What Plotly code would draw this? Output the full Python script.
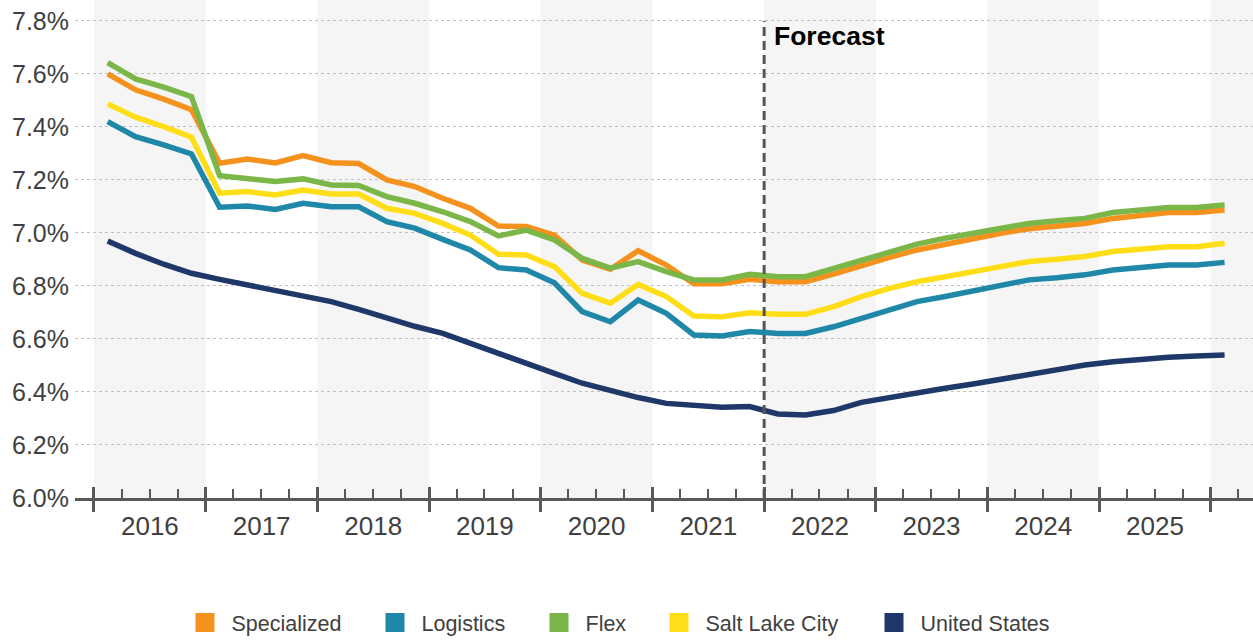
import plotly.graph_objects as go

# ---------------- data ----------------
years = list(range(2016, 2027))
quarters = [(y, q) for y in range(2016, 2026) for q in (1, 2, 3, 4)] + [(2026, 1)]
quarter_mid_month = {1: "02-15", 2: "05-16", 3: "08-16", 4: "11-15"}
x_dates = [f"{y}-{quarter_mid_month[q]}" for y, q in quarters]

specialized = [7.600, 7.540, 7.505, 7.465, 7.263, 7.279, 7.264, 7.292, 7.265, 7.262, 7.200, 7.175,
               7.131, 7.093, 7.026, 7.024, 6.992, 6.898, 6.863, 6.933, 6.879, 6.808, 6.808, 6.825,
               6.816, 6.816, 6.845, 6.879, 6.908, 6.936, 6.957, 6.980, 6.999, 7.016, 7.026, 7.036,
               7.055, 7.068, 7.077, 7.077, 7.087]
logistics = [7.420, 7.363, 7.332, 7.298, 7.097, 7.102, 7.089, 7.112, 7.099, 7.099, 7.043, 7.018,
             6.976, 6.936, 6.869, 6.860, 6.812, 6.703, 6.665, 6.747, 6.697, 6.615, 6.611, 6.628,
             6.621, 6.621, 6.646, 6.678, 6.709, 6.741, 6.760, 6.782, 6.804, 6.823, 6.831, 6.842,
             6.860, 6.871, 6.879, 6.879, 6.889]
flex = [7.643, 7.581, 7.550, 7.514, 7.216, 7.206, 7.194, 7.204, 7.181, 7.179, 7.137, 7.112,
        7.080, 7.043, 6.989, 7.011, 6.974, 6.904, 6.867, 6.892, 6.854, 6.823, 6.823, 6.844,
        6.835, 6.835, 6.867, 6.898, 6.930, 6.958, 6.980, 6.999, 7.020, 7.036, 7.046, 7.055,
        7.077, 7.087, 7.096, 7.096, 7.106]
salt_lake_city = [7.487, 7.437, 7.401, 7.361, 7.150, 7.156, 7.143, 7.162, 7.147, 7.147, 7.093, 7.074,
                  7.036, 6.992, 6.920, 6.917, 6.873, 6.772, 6.735, 6.806, 6.760, 6.687, 6.684, 6.699,
                  6.693, 6.693, 6.722, 6.760, 6.791, 6.816, 6.835, 6.854, 6.873, 6.892, 6.901, 6.911,
                  6.930, 6.940, 6.948, 6.948, 6.961]
united_states = [6.970, 6.923, 6.882, 6.848, 6.825, 6.804, 6.779, 6.760, 6.741, 6.712, 6.678, 6.648,
                 6.621, 6.585, 6.547, 6.509, 6.470, 6.433, 6.405, 6.379, 6.357, 6.347, 6.342, 6.345,
                 6.317, 6.313, 6.330, 6.361, 6.380, 6.395, 6.414, 6.430, 6.448, 6.464, 6.483, 6.502,
                 6.514, 6.523, 6.531, 6.536, 6.540]

series_names = ["Specialized", "Logistics", "Flex", "Salt Lake City", "United States"]
series_values = [specialized, logistics, flex, salt_lake_city, united_states]
series_colors = ["#F5921E", "#1F88A9", "#7AB648", "#FFDE17", "#1E3869"]

y_ticks = [6.0, 6.2, 6.4, 6.6, 6.8, 7.0, 7.2, 7.4, 7.6, 7.8]
y_ticktext = [f"{v:.1f}%" for v in y_ticks]
forecast_start = "2022-01-01"
forecast_label = "Forecast"

# ---------------- styling ----------------
FONT = "Liberation Sans, Arial, sans-serif"
AXIS_COLOR = "#595959"
TEXT_COLOR = "#404040"
X_RANGE = ["2015-10-31", "2026-05-19"]
Y_RANGE = [6.0, 7.879]

fig = go.Figure()

for name, vals, col in zip(series_names, series_values, series_colors):
    fig.add_trace(go.Scatter(
        x=x_dates, y=vals, mode="lines", name=name,
        line=dict(color=col, width=5.5), showlegend=False, hoverinfo="skip"))

legend_ids = ["legend", "legend2", "legend3", "legend4", "legend5"]
for name, col, lid in zip(series_names, series_colors, legend_ids):
    fig.add_trace(go.Scatter(
        x=[None], y=[None], mode="markers", name=name,
        marker=dict(symbol="square", size=16, color=col, line=dict(color=col, width=3)),
        showlegend=True, legend=lid))

# invisible trace to carry the overlay axis (inside halves of year ticks)
fig.add_trace(go.Scatter(x=[None], y=[None], xaxis="x2", yaxis="y",
                         showlegend=False, hoverinfo="skip"))

# shaded alternate-year bands
for y in years:
    if (y - 2016) % 2 == 0:
        fig.add_shape(type="rect", xref="x", yref="y",
                      x0=f"{y}-01-01", x1=f"{y + 1}-01-01", y0=Y_RANGE[0], y1=Y_RANGE[1],
                      fillcolor="#F5F5F5", line=dict(width=0), layer="below")

# forecast divider
fig.add_shape(type="line", xref="x", yref="y", x0=forecast_start, x1=forecast_start,
              y0=6.0, y1=7.8, line=dict(color="#555555", width=3, dash="9px,5px"), layer="above")
fig.add_annotation(x=forecast_start, y=7.743, xref="x", yref="y", text=f"<b>{forecast_label}</b>",
                   showarrow=False, xanchor="left", yanchor="middle", xshift=8,
                   font=dict(family=FONT, size=26.5, color="#000000"))

fig.update_layout(
    width=1253, height=640,
    margin=dict(l=75, r=0, t=0, b=142, autoexpand=False),
    plot_bgcolor="white", paper_bgcolor="white",
    xaxis=dict(
        type="date", range=X_RANGE, tick0="2016-01-01", dtick="M12",
        ticklabelmode="period", tickformat="%Y",
        ticks="outside", ticklen=11, tickwidth=3, tickcolor=AXIS_COLOR,
        showline=True, linecolor=AXIS_COLOR, linewidth=3,
        showgrid=False, zeroline=False, ticklabelstandoff=-8,
        tickfont=dict(family=FONT, size=26, color=TEXT_COLOR),
        minor=dict(tick0="2016-01-01", dtick="M3", ticks="inside", ticklen=9,
                   tickwidth=2, tickcolor=AXIS_COLOR, showgrid=False),
    ),
    xaxis2=dict(
        type="date", range=X_RANGE, overlaying="x", anchor="y", side="bottom",
        tick0="2016-01-01", dtick="M12", ticks="inside", ticklen=11, tickwidth=3,
        tickcolor=AXIS_COLOR, showticklabels=False, showline=False, showgrid=False,
        zeroline=False,
    ),
    yaxis=dict(
        range=Y_RANGE, tickvals=y_ticks, ticktext=y_ticktext,
        showgrid=True, gridcolor="#C0C0C0", griddash="dot", gridwidth=1,
        zeroline=False, showline=False, ticks="", ticklabelstandoff=5,
        tickfont=dict(family=FONT, size=25, color=TEXT_COLOR),
    ),
)

legend_centers_px = [203.5, 393.5, 557.5, 677.5, 892.5]
for lid, cx in zip(legend_ids, legend_centers_px):
    fig.update_layout({lid: dict(
        orientation="h", x=(cx - 25 - 75) / 1178, xanchor="left",
        y=-(622.5 - 498) / 498, yanchor="middle", itemwidth=43,
        font=dict(family=FONT, size=21.5, color=TEXT_COLOR),
        bgcolor="rgba(0,0,0,0)", borderwidth=0)})

fig.write_html("out.html", config={"displayModeBar": False},
               post_script="document.body.style.margin='0';document.body.style.padding='0';")
